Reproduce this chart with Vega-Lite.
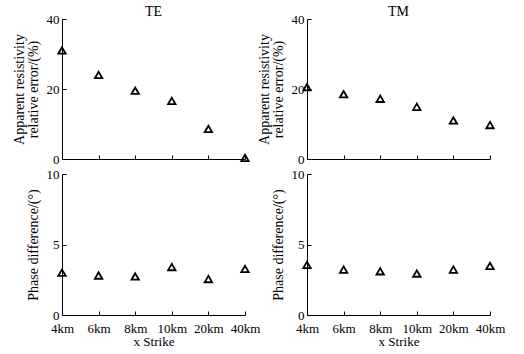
{
  "$schema": "https://vega.github.io/schema/vega-lite/v6.json",
  "background": "white",
  "padding": {"left": 12, "top": 5, "right": 5, "bottom": 5},
  "config": {
    "font": "Liberation Serif",
    "view": {"stroke": null},
    "axis": {
      "domainColor": "black",
      "tickColor": "black",
      "tickSize": -4,
      "labelColor": "black",
      "titleColor": "black",
      "labelFont": "Liberation Serif",
      "titleFont": "Liberation Serif",
      "labelFontSize": 13,
      "titleFontSize": 14,
      "titleFontWeight": "normal",
      "grid": false,
      "labelPadding": 7
    },
    "axisX": {"labelPadding": 11},
    "title": {"font": "Liberation Serif", "fontSize": 14, "fontWeight": "normal", "color": "black", "offset": -6}
  },
  "datasets": {
    "d": [
      {"strike": "4km", "mode": "TE", "resist": 31.0, "phase": 3.0},
      {"strike": "6km", "mode": "TE", "resist": 24.0, "phase": 2.8},
      {"strike": "8km", "mode": "TE", "resist": 19.5, "phase": 2.73},
      {"strike": "10km", "mode": "TE", "resist": 16.6, "phase": 3.4},
      {"strike": "20km", "mode": "TE", "resist": 8.6, "phase": 2.55},
      {"strike": "40km", "mode": "TE", "resist": 0.3, "phase": 3.27},
      {"strike": "4km", "mode": "TM", "resist": 20.5, "phase": 3.55},
      {"strike": "6km", "mode": "TM", "resist": 18.5, "phase": 3.22},
      {"strike": "8km", "mode": "TM", "resist": 17.2, "phase": 3.1},
      {"strike": "10km", "mode": "TM", "resist": 14.9, "phase": 2.94},
      {"strike": "20km", "mode": "TM", "resist": 11.0, "phase": 3.22},
      {"strike": "40km", "mode": "TM", "resist": 9.7, "phase": 3.48}
    ]
  },
  "columns": 2,
  "spacing": {"row": 15, "column": 62},
  "bounds": "flush",
  "concat": [
    {
      "width": 183, "height": 140,
      "title": "TE",
      "data": {"name": "d"},
      "transform": [{"filter": "datum.mode === 'TE'"}],
      "mark": {"type": "point", "shape": "triangle-up", "filled": false, "color": "black", "strokeWidth": 1.8, "size": 55, "opacity": 1},
      "encoding": {
        "x": {"field": "strike", "type": "ordinal", "sort": ["4km", "6km", "8km", "10km", "20km", "40km"], "scale": {"type": "point", "padding": 0}, "axis": {"labels": false, "title": null}},
        "y": {"field": "resist", "type": "quantitative", "scale": {"domain": [0, 40]}, "axis": {"values": [0, 20, 40], "title": ["Apparent resistivity", "relative error/(%)"], "titleLineHeight": 14, "titlePadding": 6}}
      }
    },
    {
      "width": 183, "height": 140,
      "title": "TM",
      "data": {"name": "d"},
      "transform": [{"filter": "datum.mode === 'TM'"}],
      "mark": {"type": "point", "shape": "triangle-up", "filled": false, "color": "black", "strokeWidth": 1.8, "size": 55, "opacity": 1},
      "encoding": {
        "x": {"field": "strike", "type": "ordinal", "sort": ["4km", "6km", "8km", "10km", "20km", "40km"], "scale": {"type": "point", "padding": 0}, "axis": {"labels": false, "title": null}},
        "y": {"field": "resist", "type": "quantitative", "scale": {"domain": [0, 40]}, "axis": {"values": [0, 20, 40], "title": ["Apparent resistivity", "relative error/(%)"], "titleLineHeight": 14, "titlePadding": 6}}
      }
    },
    {
      "width": 183, "height": 141,
      "data": {"name": "d"},
      "transform": [{"filter": "datum.mode === 'TE'"}],
      "mark": {"type": "point", "shape": "triangle-up", "filled": false, "color": "black", "strokeWidth": 1.8, "size": 55, "opacity": 1},
      "encoding": {
        "x": {"field": "strike", "type": "ordinal", "sort": ["4km", "6km", "8km", "10km", "20km", "40km"], "scale": {"type": "point", "padding": 0}, "axis": {"labelAngle": 0, "title": "x Strike", "titleFontSize": 13, "titlePadding": 0}},
        "y": {"field": "phase", "type": "quantitative", "scale": {"domain": [0, 10]}, "axis": {"values": [0, 5, 10], "title": "Phase difference/(°)", "titlePadding": 6}}
      }
    },
    {
      "width": 183, "height": 141,
      "data": {"name": "d"},
      "transform": [{"filter": "datum.mode === 'TM'"}],
      "mark": {"type": "point", "shape": "triangle-up", "filled": false, "color": "black", "strokeWidth": 1.8, "size": 55, "opacity": 1},
      "encoding": {
        "x": {"field": "strike", "type": "ordinal", "sort": ["4km", "6km", "8km", "10km", "20km", "40km"], "scale": {"type": "point", "padding": 0}, "axis": {"labelAngle": 0, "title": "x Strike", "titleFontSize": 13, "titlePadding": 0}},
        "y": {"field": "phase", "type": "quantitative", "scale": {"domain": [0, 10]}, "axis": {"values": [0, 5, 10], "title": "Phase difference/(°)", "titlePadding": 6}}
      }
    }
  ]
}
